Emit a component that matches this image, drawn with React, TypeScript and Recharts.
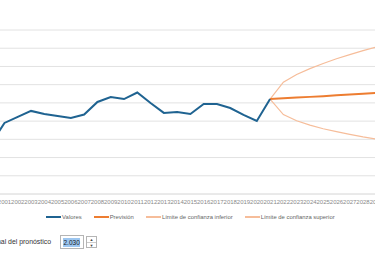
import { LineChart, Line, XAxis, YAxis, CartesianGrid, Legend } from "recharts";

const years = [
  "2000", "2001", "2002", "2003", "2004", "2005", "2006", "2007", "2008", "2009",
  "2010", "2011", "2012", "2013", "2014", "2015", "2016", "2017", "2018", "2019",
  "2020", "2021", "2022", "2023", "2024", "2025", "2026", "2027", "2028", "2029", "2030",
];

// 2000 - 2021
const valores = [
  27.7, 39.0, 42.3, 45.6, 43.9, 42.8, 41.7, 43.6, 50.5, 53.2, 52.1,
  55.7, 49.9, 44.5, 45.0, 43.9, 49.4, 49.4, 47.2, 43.4, 40.1, 52.1,
];

// 2021 - 2030
const prevision = [52.1, 52.5, 52.9, 53.3, 53.7, 54.2, 54.6, 55.0, 55.4, 55.8];
const limiteInferior = [52.1, 43.6, 40.2, 37.8, 35.8, 34.2, 32.7, 31.3, 30.1, 28.9];
const limiteSuperior = [52.1, 61.4, 65.6, 68.8, 71.6, 74.2, 76.5, 78.7, 80.7, 82.7];

const yTicks = [0, 10, 20, 30, 40, 50, 60, 70, 80, 90];

const forecastStart = valores.length - 1;

const data = years.map((year, i) => ({
  year,
  valores: i < valores.length ? valores[i] : null,
  prevision: i >= forecastStart ? prevision[i - forecastStart] : null,
  inferior: i >= forecastStart ? limiteInferior[i - forecastStart] : null,
  superior: i >= forecastStart ? limiteSuperior[i - forecastStart] : null,
}));

const COLORS = {
  valores: "#1f6391",
  prevision: "#ed7d31",
  limite: "#f6bd9a",
};

const legendItems = [
  { label: "Valores", color: COLORS.valores },
  { label: "Previsión", color: COLORS.prevision },
  { label: "Límite de confianza inferior", color: COLORS.limite },
  { label: "Límite de confianza superior", color: COLORS.limite },
];

function LegendRow() {
  return (
    <div
      style={{
        height: 10,
        display: "flex",
        justifyContent: "center",
        alignItems: "center",
        gap: 12,
        fontSize: 5.9,
        color: "#666",
      }}
    >
      {legendItems.map((item) => (
        <div key={item.label} style={{ display: "flex", alignItems: "center" }}>
          <span style={{ width: 15, height: 2, background: item.color, marginRight: 1 }} />
          <span style={{ whiteSpace: "nowrap" }}>{item.label}</span>
        </div>
      ))}
    </div>
  );
}

export default function App() {
  return (
    <div
      style={{
        position: "fixed",
        left: 0,
        top: 0,
        width: 375,
        height: 255,
        overflow: "hidden",
        background: "#fff",
        fontFamily: '"Liberation Sans", Arial, sans-serif',
      }}
    >
      <div style={{ position: "absolute", left: -40, top: 0 }}>
        <LineChart
          width={455}
          height={225}
          data={data}
          margin={{ top: 30, right: 25.4, bottom: 3, left: 31.2 }}
        >
          <CartesianGrid vertical={false} stroke="#e2e2e2" />
          <XAxis
            dataKey="year"
            interval={0}
            tickLine={false}
            tickSize={0}
            tickMargin={5.5}
            height={18}
            axisLine={{ stroke: "#e2e2e2" }}
            tick={{ fontSize: 6, fill: "#8a8a8a" }}
          />
          <YAxis hide domain={[0, 90]} ticks={yTicks} interval={0} />
          <Legend verticalAlign="bottom" content={() => <LegendRow />} />
          <Line
            dataKey="superior"
            stroke={COLORS.limite}
            strokeWidth={1.2}
            dot={false}
            isAnimationActive={false}
          />
          <Line
            dataKey="inferior"
            stroke={COLORS.limite}
            strokeWidth={1.2}
            dot={false}
            isAnimationActive={false}
          />
          <Line
            dataKey="prevision"
            stroke={COLORS.prevision}
            strokeWidth={2}
            dot={false}
            isAnimationActive={false}
          />
          <Line
            dataKey="valores"
            stroke={COLORS.valores}
            strokeWidth={2}
            dot={false}
            isAnimationActive={false}
          />
        </LineChart>
      </div>

      <span
        style={{
          position: "absolute",
          right: 324,
          top: 238,
          fontSize: 6.9,
          color: "#333",
          whiteSpace: "nowrap",
        }}
      >
        Final del pronóstico
      </span>
      <div
        style={{
          position: "absolute",
          left: 60,
          top: 235,
          width: 24,
          height: 14,
          border: "1px solid #b5b5b5",
          boxSizing: "border-box",
          display: "flex",
          alignItems: "center",
          paddingLeft: 2,
        }}
      >
        <span style={{ background: "#9cc6f0", color: "#1a1a1a", fontSize: 6.5, padding: "1px 0.5px" }}>
          2.030
        </span>
      </div>
      <div
        style={{
          position: "absolute",
          left: 86,
          top: 236,
          width: 11,
          height: 12,
          border: "1px solid #b5b5b5",
          boxSizing: "border-box",
          fontSize: 4,
          lineHeight: "5px",
          textAlign: "center",
          color: "#444",
        }}
      >
        <div style={{ borderBottom: "1px solid #ccc" }}>▲</div>
        <div>▼</div>
      </div>
    </div>
  );
}
